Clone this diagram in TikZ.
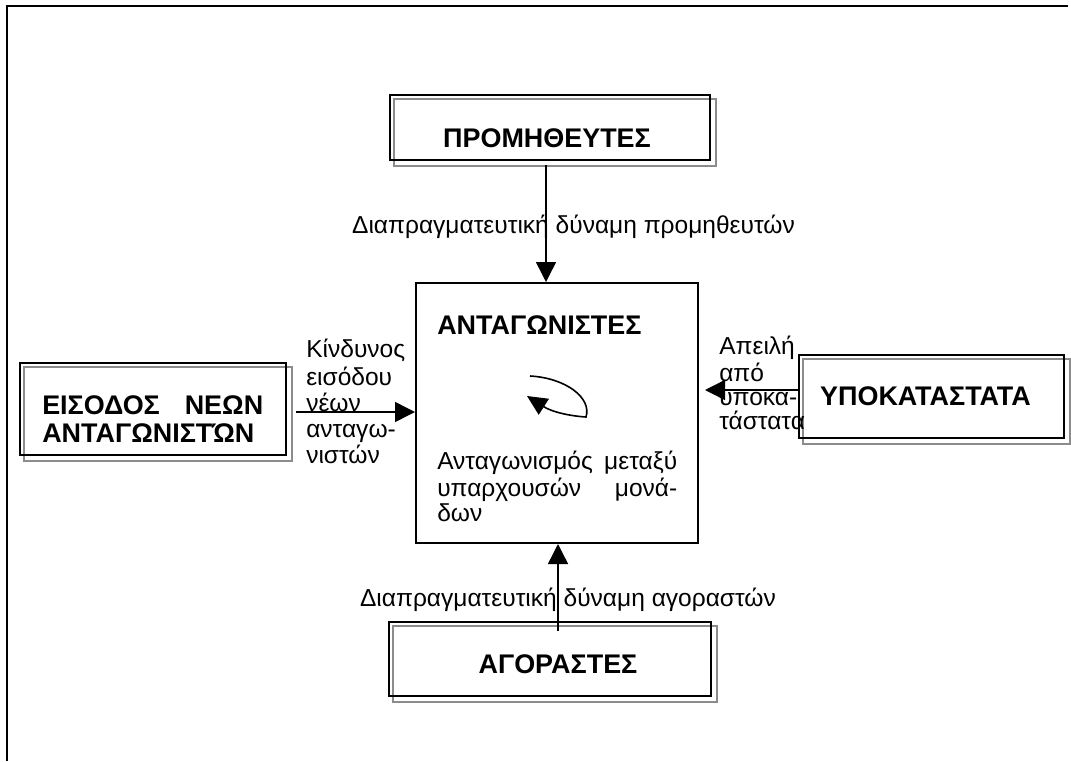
\documentclass[tikz,border=0pt]{standalone}
\usepackage{fontspec}
\setmainfont{Liberation Sans}
\usetikzlibrary{arrows.meta,calc}
\pgfdeclarelayer{bg}
\pgfsetlayers{bg,main}

\begin{document}
\begin{tikzpicture}[x=0.75pt,y=-0.75pt,
  frame/.style={line width=1.9pt, line join=miter},
  box/.style={draw=black, line width=1.5pt, inner sep=0pt},
  shadeline/.style={draw=black!45, line width=1.1pt},
  conn/.style={line width=1.1pt, -{Triangle[length=15pt,width=15pt]}},
  title/.style={font=\fontsize{20.2}{21}\selectfont\bfseries, inner sep=0pt},
  lbl/.style={font=\fontsize{18.4}{19.5}\selectfont, inner sep=0pt},
]
\useasboundingbox (0,0) rectangle (1071,761);

% page frame (top and left edges)
\draw[frame] (7,761) -- (7,6) -- (1068,6);

% boxes
\node[box, minimum width=240pt,   minimum height=48.75pt] (sup)  at (550,127.5) {};
\node[box, minimum width=199.5pt, minimum height=69pt]    (ent)  at (153,409)   {};
\node[box, minimum width=198.75pt,minimum height=62.25pt] (sub)  at (931.5,396.5) {};
\node[box, minimum width=241.5pt, minimum height=55.5pt]  (buy)  at (550,659)   {};
\node[box, minimum width=211.5pt, minimum height=195pt]   (comp) at (557,413)   {};

% offset grey outlines behind the framed boxes
\begin{pgfonlayer}{bg}
  \foreach \b in {sup,ent,sub,buy}
    \draw[shadeline] ($(\b.north west)+(5,5)$) rectangle ($(\b.south east)+(5,5)$);
\end{pgfonlayer}

% box titles
\node[title, anchor=base] (supT) at (547,147) {ΠΡΟΜΗΘΕΥΤΕΣ};
\node[title, anchor=base] (subT) at (925.5,405) {ΥΠΟΚΑΤΑΣΤΑΤΑ};
\node[title, anchor=base] (buyT) at (558,673) {ΑΓΟΡΑΣΤΕΣ};
\node[title, anchor=base west] (compT) at (437,334) {ΑΝΤΑΓΩΝΙΣΤΕΣ};
\node[title, anchor=north west, text width=165.75pt, align=left] (entT) at (42,394.4)
  {\strut ΕΙΣΟΔΟΣ\hfill ΝΕΩΝ\\ΑΝΤΑΓΩΝΙΣΤΏΝ};

% text inside the central box
\node[lbl, font=\fontsize{18.4}{18.75}\selectfont, anchor=north west, text width=180pt, align=left]
  (compD) at (437,450.5)
  {\strut Ανταγωνισμός\hfill μεταξύ\\υπαρχουσών\hfill μονά-\\δων};

% connector labels
\node[lbl, anchor=base] (supL) at (573.5,233) {Διαπραγματευτική δύναμη προμηθευτών};
\node[lbl, anchor=base] (buyL) at (568,606) {Διαπραγματευτική δύναμη αγοραστών};
\node[lbl, anchor=north west, align=left] (entL) at (306,338.8)
  {\strut Κίνδυνος\\εισόδου\\νέων\\ανταγω-\\νιστών};
\node[lbl, font=\fontsize{18.4}{18}\selectfont, anchor=north west, align=left] (subL) at (719,336.2)
  {\strut Απειλή\\από\\υποκα-\\τάστατα};

% connectors
\coordinate (tx) at (546,0);
\coordinate (bx) at (558,0);
\coordinate (ly) at (0,412);
\coordinate (ry) at (0,390);
\draw[conn] ($(sup.south -| tx)+(0,4)$) -- (comp.north -| tx);
\draw[conn] ($(buy.north -| bx)+(0,10)$) -- (comp.south -| bx);
\draw[conn] ($(ent.east |- ly)+(9,0)$) -- (comp.west |- ly);
\draw[conn] (sub.west |- ry) -- ($(comp.east |- ry)+(6,0)$);

% rivalry loop inside the central box
\draw[line width=1.2pt, -{Triangle[length=15pt,width=14pt]}]
  (530,376) .. controls (566,378) and (592,398) .. (586,417)
  .. controls (570,416) and (552,412) .. (527,396);
\end{tikzpicture}
\end{document}
